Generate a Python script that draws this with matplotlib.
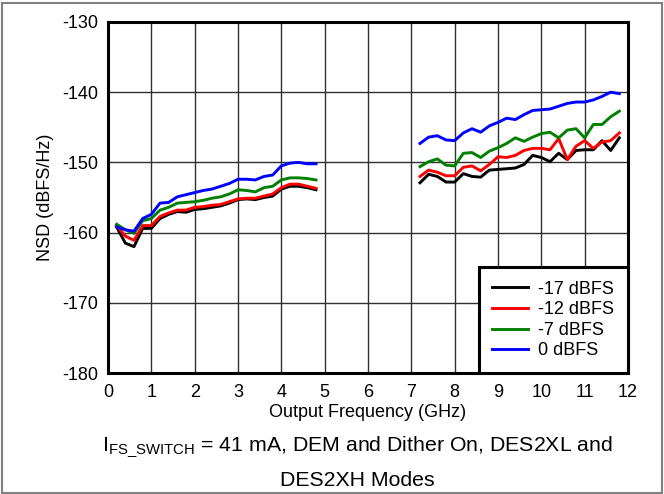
import matplotlib
matplotlib.use("Agg")
import matplotlib.pyplot as plt
from matplotlib.patches import Rectangle

plt.rcParams['font.family'] = ['Liberation Sans', 'DejaVu Sans']
plt.rcParams['axes.unicode_minus'] = False

freq_low = [0.2, 0.4, 0.6, 0.8, 1.0, 1.2, 1.4, 1.6, 1.8, 2.0, 2.2, 2.4,
            2.6, 2.8, 3.0, 3.2, 3.4, 3.6, 3.8, 4.0, 4.2, 4.4, 4.6, 4.8]
freq_high = [7.2, 7.4, 7.6, 7.8, 8.0, 8.2, 8.4, 8.6, 8.8, 9.0, 9.2, 9.4,
             9.6, 9.8, 10.0, 10.2, 10.4, 10.6, 10.8, 11.0, 11.2, 11.4, 11.6, 11.8]

m17_low = [-159.2, -161.5, -162.0, -159.4, -159.4, -158.0, -157.4, -157.0, -157.1, -156.7, -156.6, -156.4,
           -156.2, -155.8, -155.3, -155.2, -155.3, -155.0, -154.8, -153.8, -153.4, -153.4, -153.6, -153.9]
m12_low = [-159.0, -160.5, -161.1, -159.0, -159.0, -157.7, -157.2, -156.8, -156.8, -156.4, -156.3, -156.1,
           -156.0, -155.6, -155.2, -155.1, -155.1, -154.8, -154.5, -153.6, -153.1, -153.1, -153.4, -153.7]
m7_low = [-158.8, -159.6, -160.1, -158.3, -158.0, -156.8, -156.4, -155.8, -155.7, -155.6, -155.4, -155.1,
          -154.9, -154.5, -153.9, -154.0, -154.2, -153.6, -153.4, -152.5, -152.2, -152.2, -152.3, -152.5]
z0_low = [-159.2, -159.6, -159.8, -158.0, -157.4, -155.8, -155.7, -154.9, -154.6, -154.3, -154.0, -153.8,
          -153.4, -153.0, -152.4, -152.4, -152.5, -152.0, -151.8, -150.5, -150.1, -150.0, -150.2, -150.2]

m17_high = [-152.9, -151.7, -152.0, -152.8, -152.8, -151.6, -152.0, -152.1, -151.1, -151.0, -150.9, -150.8,
            -150.3, -149.0, -149.3, -149.9, -148.7, -149.6, -148.3, -148.2, -148.2, -146.9, -148.3, -146.5]
m12_high = [-152.0, -151.1, -151.4, -151.9, -151.9, -150.7, -150.5, -151.2, -150.3, -149.2, -149.3, -149.0,
            -148.3, -148.0, -148.0, -148.2, -146.6, -149.6, -147.7, -146.9, -148.0, -147.1, -146.9, -145.8]
m7_high = [-150.6, -149.9, -149.5, -150.4, -150.5, -148.7, -148.6, -149.3, -148.4, -147.9, -147.3, -146.5,
           -147.0, -146.4, -145.9, -145.7, -146.5, -145.4, -145.2, -146.5, -144.6, -144.6, -143.5, -142.7]
z0_high = [-147.3, -146.4, -146.2, -146.8, -146.9, -145.8, -145.2, -145.7, -144.8, -144.3, -143.7, -143.9,
           -143.2, -142.6, -142.5, -142.4, -142.0, -141.6, -141.4, -141.4, -141.1, -140.6, -140.0, -140.2]

series_labels = ['-17 dBFS', '-12 dBFS', '-7 dBFS', '0 dBFS']
series_colors = ['#000000', '#ff0000', '#008000', '#0000ff']
series_low = [m17_low, m12_low, m7_low, z0_low]
series_high = [m17_high, m12_high, m7_high, z0_high]

x_ticks = list(range(0, 13))
y_ticks = [-180, -170, -160, -150, -140, -130]

fig = plt.figure(figsize=(6.64, 4.94), dpi=100)
ax = fig.add_axes([108/664, 1-373/494, (628-108)/664, (373-22)/494])

for lab, col, lo, hi in zip(series_labels, series_colors, series_low, series_high):
    ax.plot(freq_low, lo, color=col, lw=2.1, label=lab, zorder=3)
    ax.plot(freq_high, hi, color=col, lw=2.1, zorder=3)

ax.set_xlim(0, 12)
ax.set_ylim(-180, -130)
ax.set_xticks(x_ticks)
ax.set_yticks(y_ticks)
ax.grid(True, color='#303030', lw=1.0, zorder=1)
ax.tick_params(length=0, labelsize=13)
ax.tick_params(axis='x', pad=8)
ax.tick_params(axis='y', pad=7)
for s in ax.spines.values():
    s.set_linewidth(2.2)
    s.set_color('black')
    s.set_zorder(4)

ax.set_xlabel('Output Frequency (GHz)', fontsize=13, labelpad=2)
ax.set_ylabel('NSD (dBFS/Hz)', fontsize=13, labelpad=6)

leg = ax.legend(loc='lower right', borderaxespad=0, fancybox=False, fontsize=13,
                handlelength=1.95, handletextpad=0.6, labelspacing=0.2, borderpad=0.75)
leg.get_frame().set_edgecolor('black')
leg.get_frame().set_linewidth(2.2)
leg.get_frame().set_alpha(1)
leg.set_zorder(5)

fig.text(357/664, 1-447/494, r'I$_{\mathregular{FS\_SWITCH}}$ = 41 mA, DEM and Dither On, DES2XL and',
         ha='center', va='center', fontsize=15.3)
fig.text(357/664, 1-480/494, 'DES2XH Modes', ha='center', va='center', fontsize=15.3)

fig.patches.append(Rectangle((0.003, 0.003), 0.994, 0.991, transform=fig.transFigure,
                             fill=False, edgecolor='#808080', lw=1.5))

fig.savefig('out.png', dpi=100)
